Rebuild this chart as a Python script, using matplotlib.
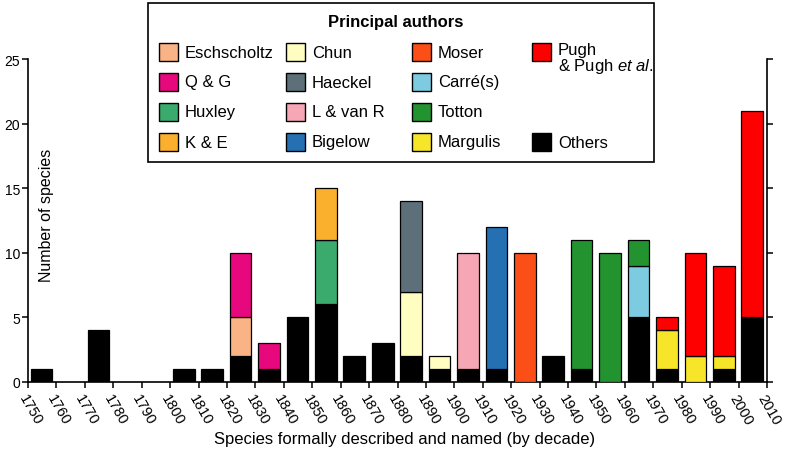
import matplotlib
matplotlib.use('Agg')
import matplotlib.pyplot as plt
from matplotlib.patches import Rectangle
import numpy as np

plt.rcParams['font.family'] = ['Liberation Sans', 'DejaVu Sans']
plt.rcParams['mathtext.fontset'] = 'custom'
plt.rcParams['mathtext.rm'] = 'Liberation Sans'
plt.rcParams['mathtext.it'] = 'Liberation Sans:italic'

# ---------------- data ----------------
decades = list(range(1750, 2010, 10))
xtick_labels = [str(y) for y in range(1750, 2020, 10)]
yticks = [0, 5, 10, 15, 20, 25]

others      = [1,0,4,0,0,1,1,2,1,5,6,2,3,2,1,1,1,0,2,1,0,5,1,0,1,5]
eschscholtz = [0,0,0,0,0,0,0,3,0,0,0,0,0,0,0,0,0,0,0,0,0,0,0,0,0,0]
q_and_g     = [0,0,0,0,0,0,0,5,2,0,0,0,0,0,0,0,0,0,0,0,0,0,0,0,0,0]
huxley      = [0,0,0,0,0,0,0,0,0,0,5,0,0,0,0,0,0,0,0,0,0,0,0,0,0,0]
k_and_e     = [0,0,0,0,0,0,0,0,0,0,4,0,0,0,0,0,0,0,0,0,0,0,0,0,0,0]
chun        = [0,0,0,0,0,0,0,0,0,0,0,0,0,5,1,0,0,0,0,0,0,0,0,0,0,0]
haeckel     = [0,0,0,0,0,0,0,0,0,0,0,0,0,7,0,0,0,0,0,0,0,0,0,0,0,0]
l_van_r     = [0,0,0,0,0,0,0,0,0,0,0,0,0,0,0,9,0,0,0,0,0,0,0,0,0,0]
bigelow     = [0,0,0,0,0,0,0,0,0,0,0,0,0,0,0,0,11,0,0,0,0,0,0,0,0,0]
moser       = [0,0,0,0,0,0,0,0,0,0,0,0,0,0,0,0,0,10,0,0,0,0,0,0,0,0]
carre       = [0,0,0,0,0,0,0,0,0,0,0,0,0,0,0,0,0,0,0,0,0,4,0,0,0,0]
totton      = [0,0,0,0,0,0,0,0,0,0,0,0,0,0,0,0,0,0,0,10,10,2,0,0,0,0]
margulis    = [0,0,0,0,0,0,0,0,0,0,0,0,0,0,0,0,0,0,0,0,0,0,3,2,1,0]
pugh        = [0,0,0,0,0,0,0,0,0,0,0,0,0,0,0,0,0,0,0,0,0,0,1,8,7,16]

series_names = ['Others', 'Eschscholtz', 'Q & G', 'Huxley', 'K & E', 'Chun',
                'Haeckel', 'L & van R', 'Bigelow', 'Moser', 'Carré(s)',
                'Totton', 'Margulis', 'Pugh']
series_values = [others, eschscholtz, q_and_g, huxley, k_and_e, chun, haeckel,
                 l_van_r, bigelow, moser, carre, totton, margulis, pugh]
colors = {
    'Others': '#000000', 'Eschscholtz': '#F9B384', 'Q & G': '#E8087D',
    'Huxley': '#3AAA6D', 'K & E': '#FBB02D', 'Chun': '#FFFDC0',
    'Haeckel': '#5D7079', 'L & van R': '#F6A6B4', 'Bigelow': '#2470B3',
    'Moser': '#FC4E17', 'Carré(s)': '#7DCBE1', 'Totton': '#23932F',
    'Margulis': '#F6E528', 'Pugh': '#FE0000',
}

# legend layout: columns of (name, label)
legend_cols = [
    [('Eschscholtz', 'Eschscholtz'), ('Q & G', 'Q & G'), ('Huxley', 'Huxley'), ('K & E', 'K & E')],
    [('Chun', 'Chun'), ('Haeckel', 'Haeckel'), ('L & van R', 'L & van R'), ('Bigelow', 'Bigelow')],
    [('Moser', 'Moser'), ('Carré(s)', 'Carré(s)'), ('Totton', 'Totton'), ('Margulis', 'Margulis')],
    [('Pugh', 'Pugh\n& Pugh $\\it{et\\ al.}$'), None, None, ('Others', 'Others')],
]

# ---------------- figure ----------------
W, H = 785, 456
fig = plt.figure(figsize=(W / 100, H / 100), dpi=100)

def fx(px):
    return px / W

def fy(py):
    return 1 - py / H

ax = fig.add_axes([fx(28), fy(383), fx(767) - fx(28), fy(60) - fy(383)])

x = np.array(decades) + 4.8
bottom = np.zeros(len(decades))
for name, vals in zip(series_names, series_values):
    v = np.array(vals, dtype=float)
    m = v > 0
    if m.any():
        ax.bar(x[m], v[m], bottom=bottom[m], width=7.6, color=colors[name],
               edgecolor='black', linewidth=0.9, zorder=3)
    bottom += v

ax.set_xlim(1750, 2010)
ax.set_ylim(0, 25)
ax.set_xticks(range(1750, 2020, 10))
ax.set_xticklabels(xtick_labels, rotation=-60, ha='left', va='top',
                   rotation_mode='anchor', fontsize=10.5)
ax.set_yticks(yticks)
ax.set_yticklabels([str(t) for t in yticks], fontsize=10)
ax.tick_params(axis='both', direction='out', length=4, width=1.1, color='black')
ax.tick_params(axis='x', pad=3)
ax.tick_params(axis='y', pad=1.5)
ax.tick_params(axis='y', right=True, labelright=False)
ax.spines['top'].set_visible(False)
for s in ['left', 'right', 'bottom']:
    ax.spines[s].set_linewidth(1.2)

fig.text(fx(47), fy(215), 'Number of species', rotation=90, ha='center',
         va='center', fontsize=11.5)
fig.text(fx(405), fy(440), 'Species formally described and named (by decade)',
         ha='center', va='center', fontsize=12)

# ---------------- legend ----------------
fig.patches.append(Rectangle((fx(148), fy(163)), fx(654) - fx(148), fy(4) - fy(163),
                             transform=fig.transFigure, facecolor='white',
                             edgecolor='black', linewidth=1.2, zorder=5))
fig.text(fx(396), fy(23), 'Principal authors', ha='center', va='center',
         fontsize=12, fontweight='bold', zorder=6)
col_px = [159, 286, 412, 532]
row_py = [53, 83, 113, 143]
sq = 18.5
for ci, col in enumerate(legend_cols):
    for ri, entry in enumerate(col):
        if entry is None:
            continue
        name, label = entry
        px0 = col_px[ci]
        py0 = row_py[ri]
        fig.patches.append(Rectangle((fx(px0), fy(py0 + sq / 2)), sq / W, sq / H,
                                     transform=fig.transFigure,
                                     facecolor=colors[name], edgecolor='black',
                                     linewidth=1.0, zorder=6))
        if '\n' in label:
            fig.text(fx(px0 + 26), fy(py0 - 10), label, ha='left', va='top',
                     fontsize=12, linespacing=0.95, zorder=6)
        else:
            fig.text(fx(px0 + 26), fy(py0), label, ha='left', va='center',
                     fontsize=12, zorder=6)

fig.savefig('out.png', dpi=100)
